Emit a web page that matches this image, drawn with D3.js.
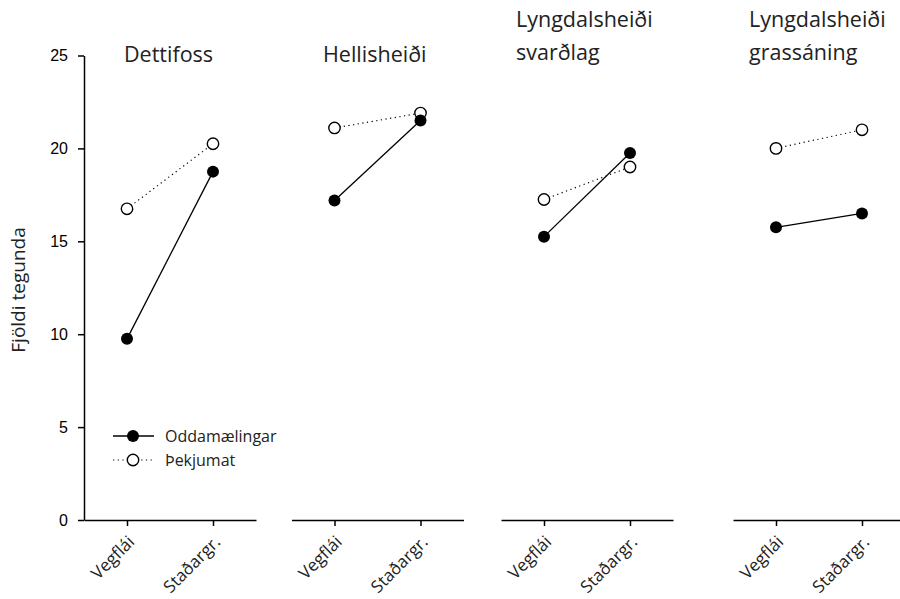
<!DOCTYPE html>
<html><head><meta charset="utf-8">
<script src="https://cdn.jsdelivr.net/npm/d3@7"></script>
<style>body{margin:0;background:#fff}svg{display:block}</style>
</head><body>
<svg id="c" width="900" height="599"></svg>
<script>
const sites = ["Dettifoss", "Hellisheiði", "Lyngdalsheiði svarðlag", "Lyngdalsheiði grassáning"];
const siteTitles = [["Dettifoss"], ["Hellisheiði"], ["Lyngdalsheiði", "svarðlag"], ["Lyngdalsheiði", "grassáning"]];
const methods = ["Vegflái", "Staðargr."];
const oddamaelingar = [[9.75, 18.75], [17.2, 21.5], [15.25, 19.75], [15.75, 16.5]];
const thekjumat = [[16.75, 20.25], [21.1, 21.9], [17.25, 19.0], [20.0, 21.0]];
const yTicks = [0, 5, 10, 15, 20, 25];
const seriesNames = ["Oddamælingar", "Þekjumat"];

const svg = d3.select("#c");
const y = d3.scaleLinear().domain([0, 25]).range([520, 55.5]);
const panelLeft = [84, 291.5, 501, 733];
const panelW = 172;
const txtFont = "'Open Sans', 'Noto Sans', sans-serif";

// y axis
const yAxis = svg.append("g").attr("transform", "translate(84,0)")
  .call(d3.axisLeft(y).tickValues(yTicks).tickSize(6).tickSizeOuter(0).tickPadding(10));
yAxis.select(".domain").attr("stroke", "#000").attr("stroke-width", 1.5);
yAxis.selectAll(".tick line").attr("stroke", "#000").attr("stroke-width", 1.5);
yAxis.selectAll(".tick text").attr("font-family", "'Liberation Sans', Arial, sans-serif")
  .attr("font-size", 16).attr("fill", "#000");

svg.append("text").attr("transform", "translate(25,290) rotate(-90)")
  .attr("text-anchor", "middle").attr("font-family", txtFont).attr("font-size", 19)
  .attr("fill", "#222").text("Fjöldi tegunda");

sites.forEach((s, i) => {
  const x = d3.scalePoint().domain(methods).range([panelLeft[i], panelLeft[i] + panelW]).padding(0.5);
  const g = svg.append("g");
  const xa = g.append("g").attr("transform", "translate(0,520)")
    .call(d3.axisBottom(x).tickSize(6).tickSizeOuter(0));
  xa.select(".domain").attr("stroke", "#000").attr("stroke-width", 1.5);
  xa.selectAll(".tick line").attr("stroke", "#000").attr("stroke-width", 1.5);
  xa.selectAll(".tick text").attr("font-family", txtFont).attr("font-size", 17).attr("fill", "#222")
    .attr("text-anchor", "end").attr("dy", null).attr("y", 0)
    .attr("transform", "translate(8,23) rotate(-45)");

  // title
  const t = g.append("text").attr("font-family", txtFont).attr("font-size", 21.5).attr("fill", "#222");
  const lines = siteTitles[i];
  const baseY = lines.length === 1 ? 62 : 27;
  const tx = [124, 323, 516, 749][i];
  lines.forEach((l, k) => t.append("tspan").attr("x", tx).attr("y", baseY + k * 33).text(l));

  const line = d3.line().x((d, j) => x(methods[j])).y(d => y(d));
  // Þekjumat (dotted)
  g.append("path").datum(thekjumat[i]).attr("d", line).attr("fill", "none")
    .attr("stroke", "#000").attr("stroke-width", 1.2).attr("stroke-dasharray", "1.2,3.5");
  g.append("path").datum(oddamaelingar[i]).attr("d", line).attr("fill", "none")
    .attr("stroke", "#000").attr("stroke-width", 1.3);
  g.selectAll(".open").data(thekjumat[i]).join("circle")
    .attr("cx", (d, j) => x(methods[j])).attr("cy", d => y(d)).attr("r", 5.7)
    .attr("fill", "#fff").attr("stroke", "#000").attr("stroke-width", 1.4);
  g.selectAll(".filled").data(oddamaelingar[i]).join("circle")
    .attr("cx", (d, j) => x(methods[j])).attr("cy", d => y(d)).attr("r", 6)
    .attr("fill", "#000");
});

// legend
const lg = svg.append("g");
[0, 1].forEach(k => {
  const ly = 436 + k * 24;
  lg.append("line").attr("x1", 113).attr("x2", 154).attr("y1", ly).attr("y2", ly)
    .attr("stroke", "#000").attr("stroke-width", k === 0 ? 1.3 : 1.2)
    .attr("stroke-dasharray", k === 0 ? null : "1.2,3.5");
  lg.append("circle").attr("cx", 133).attr("cy", ly).attr("r", k === 0 ? 6 : 5.7)
    .attr("fill", k === 0 ? "#000" : "#fff").attr("stroke", "#000").attr("stroke-width", k === 0 ? 0 : 1.4);
  lg.append("text").attr("x", 165).attr("y", ly + 6).attr("font-family", txtFont)
    .attr("font-size", 16).attr("fill", "#222").text(seriesNames[k]);
});
</script>
</body></html>
